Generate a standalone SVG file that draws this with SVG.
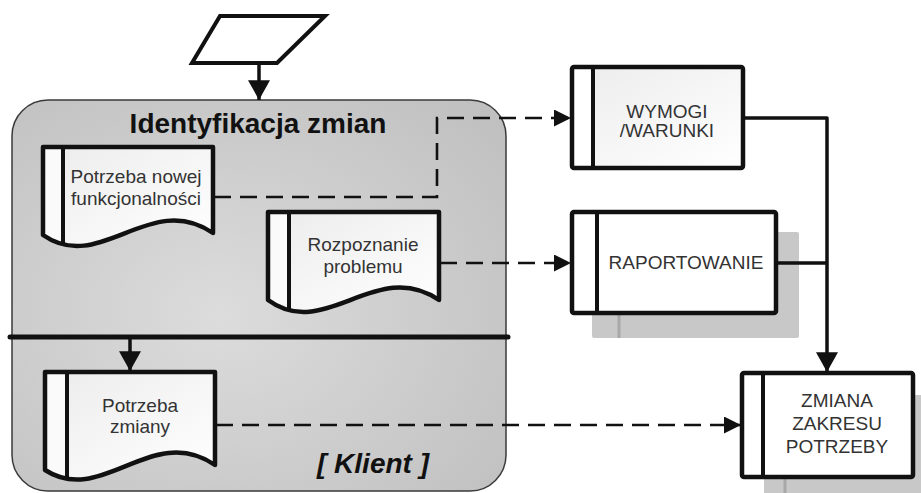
<svg xmlns="http://www.w3.org/2000/svg" width="921" height="493" viewBox="0 0 921 493">
  <style>
    .edge { stroke: #111; stroke-width: 4.5; stroke-linejoin: round; }
    .bar { fill: none; stroke: #111; stroke-width: 4; }
    .lbl { font-family: "Liberation Sans", Arial, sans-serif; font-size: 19px; fill: #333; text-anchor: middle; }
    .title { font-family: "Liberation Sans", Arial, sans-serif; font-size: 28px; font-weight: bold; fill: #111; text-anchor: middle; }
    .dash { fill: none; stroke: #111; stroke-width: 2.6; stroke-dasharray: 17 9; }
    .solid { fill: none; stroke: #111; stroke-width: 3.5; stroke-linejoin: round; }
    .shadow { fill: #c8c8c8; }
    .shadowline { stroke: #a8a8a8; stroke-width: 3; }
  </style>
  <defs>
    <radialGradient id="laneFill" cx="0.42" cy="0.55" r="0.75">
      <stop offset="0" stop-color="#dcdcdc"/>
      <stop offset="1" stop-color="#c0c0c0"/>
    </radialGradient>
    <linearGradient id="paper" x1="0" y1="0" x2="1" y2="1">
      <stop offset="0" stop-color="#ececec"/>
      <stop offset="1" stop-color="#ffffff"/>
    </linearGradient>
    <marker id="arrowBig" markerUnits="userSpaceOnUse" markerWidth="20" markerHeight="22" viewBox="0 0 18 20" refX="18" refY="10" orient="auto">
      <path d="M0,0 L18,10 L0,20 Z" fill="#111"/>
    </marker>
    <marker id="arrowDash" markerUnits="userSpaceOnUse" markerWidth="17" markerHeight="17" viewBox="0 0 16 16" refX="16" refY="8" orient="auto">
      <path d="M0,0 L16,8 L0,16 Z" fill="#111"/>
    </marker>
  </defs>

  <!-- start: data parallelogram -->
  <g id="start">
    <polygon points="220,16 325,16 277,63 192,63" fill="#fff" stroke="#111" stroke-width="4" stroke-linejoin="miter"/>
  </g>

  <!-- swimlane container -->
  <g id="lane">
    <rect x="12" y="100" width="494" height="391" rx="36" ry="36" fill="url(#laneFill)" stroke="#3a3a3a" stroke-width="1.5"/>
    <text class="title" x="258" y="133">Identyfikacja zmian</text>
    <line x1="10" y1="337" x2="508" y2="337" stroke="#111" stroke-width="5" stroke-linecap="round"/>
    <text class="title" x="373" y="473" font-style="italic">[ Klient ]</text>
  </g>

  <!-- document: new functionality -->
  <g id="doc-funkcjonalnosc" transform="translate(43,147)">
    <path d="M0,0 H170 V86 C107,43 57,128 0,88 Z" fill="url(#paper)"/>
    <rect x="2" y="2" width="18" height="90" fill="#fafafa"/>
    <line class="bar" x1="20" y1="0" x2="20" y2="97"/>
    <path class="edge" d="M0,0 H170 V86 C107,43 57,128 0,88 Z" fill="none"/>
    <text class="lbl" x="93" y="36">Potrzeba nowej</text>
    <text class="lbl" x="93" y="58">funkcjonalności</text>
  </g>

  <!-- document: problem recognition -->
  <g id="doc-problem" transform="translate(268,212)">
    <path d="M0,0 H171 V88 C108,45 57,130 0,88 Z" fill="url(#paper)"/>
    <rect x="2" y="2" width="19" height="90" fill="#fafafa"/>
    <line class="bar" x1="21" y1="0" x2="21" y2="97"/>
    <path class="edge" d="M0,0 H171 V88 C108,45 57,130 0,88 Z" fill="none"/>
    <text class="lbl" x="95" y="39">Rozpoznanie</text>
    <text class="lbl" x="95" y="61">problemu</text>
  </g>

  <!-- document: need for change -->
  <g id="doc-zmiana" transform="translate(45,372)">
    <path d="M0,0 H170 V93 C107,50 57,135 0,98 Z" fill="url(#paper)"/>
    <rect x="2" y="2" width="20" height="100" fill="#fafafa"/>
    <line class="bar" x1="22" y1="0" x2="22" y2="107"/>
    <path class="edge" d="M0,0 H170 V93 C107,50 57,135 0,98 Z" fill="none"/>
    <text class="lbl" x="95" y="40">Potrzeba</text>
    <text class="lbl" x="95" y="61">zmiany</text>
  </g>

  <!-- process: requirements -->
  <g id="wymogi">
    <rect x="572" y="67" width="171" height="101" rx="2" fill="url(#paper)"/>
    <rect x="574" y="69" width="19" height="97" fill="#fff"/>
    <line class="bar" x1="593" y1="67" x2="593" y2="168"/>
    <rect class="edge" x="572" y="67" width="171" height="101" rx="2" fill="none"/>
    <text class="lbl" x="667" y="118">WYMOGI</text>
    <text class="lbl" x="667" y="137">/WARUNKI</text>
  </g>

  <!-- process: reporting -->
  <g id="raportowanie">
    <rect class="shadow" x="592" y="232" width="207" height="106" rx="2"/>
    <line class="shadowline" x1="619" y1="313" x2="619" y2="338"/>
    <rect class="edge" x="572" y="212" width="204" height="101" rx="2" fill="#fff"/>
    <line class="bar" x1="597" y1="212" x2="597" y2="313"/>
    <text class="lbl" x="686" y="269">RAPORTOWANIE</text>
  </g>

  <!-- process: change of scope -->
  <g id="zmiana-zakresu">
    <rect class="shadow" x="764" y="395" width="171" height="104" rx="2"/>
    <line class="shadowline" x1="785" y1="477" x2="785" y2="499"/>
    <rect class="edge" x="742" y="373" width="171" height="104" rx="2" fill="#fff"/>
    <line class="bar" x1="763" y1="373" x2="763" y2="477"/>
    <text class="lbl" x="837" y="407">ZMIANA</text>
    <text class="lbl" x="837" y="430">ZAKRESU</text>
    <text class="lbl" x="837" y="453">POTRZEBY</text>
  </g>

  <!-- connectors -->
  <g id="connectors">
    <line class="solid" x1="259" y1="64" x2="259" y2="100" stroke-width="2.6" marker-end="url(#arrowBig)"/>
    <line class="solid" x1="130" y1="339" x2="130" y2="371" stroke-width="2.6" marker-end="url(#arrowBig)"/>
    <path class="dash" d="M214,197 H437 V118 H571" marker-end="url(#arrowDash)"/>
    <path class="dash" d="M440,263 H571" marker-end="url(#arrowDash)"/>
    <path class="dash" d="M216,425 H741" marker-end="url(#arrowDash)"/>
    <path class="solid" d="M744,118 H827 V372" marker-end="url(#arrowBig)"/>
    <path class="solid" d="M777,263 H827"/>
  </g>
</svg>
